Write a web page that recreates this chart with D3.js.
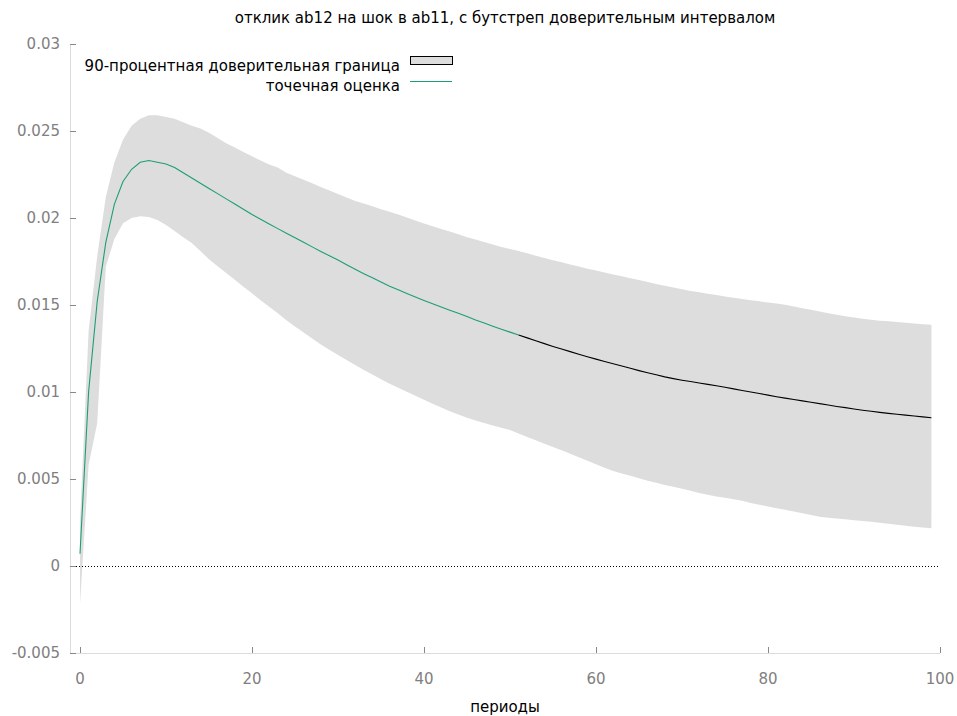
<!DOCTYPE html>
<html>
<head>
<meta charset="utf-8">
<script src="https://cdn.jsdelivr.net/npm/d3@7"></script>
<style>
  body { margin: 0; background: #fff; }
  svg text { font-family: "DejaVu Sans", Verdana, sans-serif; }
</style>
</head>
<body>
<div id="chart"></div>
<script>
// periods 0..99
const periods = d3.range(0, 100);

// point estimate (response of ab12 to a shock in ab11)
const response = [
  0.0007, 0.0100, 0.0152, 0.0186, 0.0208, 0.0221, 0.0228, 0.0232, 0.0233, 0.0232,
  0.0231, 0.0229, 0.0226, 0.0223, 0.0220, 0.02170, 0.02140, 0.02110, 0.02080, 0.02050,
  0.02020, 0.01993, 0.01966, 0.01939, 0.01912, 0.01886, 0.01860, 0.01834, 0.01808, 0.01783,
  0.01758, 0.01731, 0.01705, 0.01680, 0.01656, 0.01632, 0.01608, 0.01587, 0.01566, 0.01546,
  0.01526, 0.01507, 0.01488, 0.01470, 0.01452, 0.01434, 0.01414, 0.01396, 0.01378, 0.01361,
  0.01344, 0.01328, 0.01311, 0.01294, 0.01278, 0.01262, 0.01247, 0.01232, 0.01217, 0.01203,
  0.01189, 0.01175, 0.01162, 0.01149, 0.01136, 0.01123, 0.01111, 0.01099, 0.01087, 0.01077,
  0.01068, 0.01060, 0.01052, 0.01044, 0.01036, 0.01027, 0.01018, 0.01009, 0.01000, 0.00991,
  0.00982, 0.00973, 0.00965, 0.00957, 0.00949, 0.00941, 0.00933, 0.00925, 0.00917, 0.00910,
  0.00902, 0.00895, 0.00889, 0.00883, 0.00877, 0.00872, 0.00867, 0.00862, 0.00857, 0.00852
];

// 90% bootstrap band
const upper = [
  0.0025, 0.0135, 0.0178, 0.0212, 0.0232, 0.0245, 0.0253, 0.0257, 0.0259, 0.0259,
  0.0258, 0.0257, 0.0255, 0.0253, 0.02515, 0.02490, 0.02460, 0.02430, 0.02405, 0.02380,
  0.02355, 0.02330, 0.02308, 0.02290, 0.02260, 0.02240, 0.02220, 0.02200, 0.02178, 0.02158,
  0.02138, 0.02118, 0.02098, 0.02083, 0.02067, 0.02051, 0.02036, 0.02020, 0.02003, 0.01986,
  0.01968, 0.01953, 0.01937, 0.01922, 0.01906, 0.01890, 0.01876, 0.01862, 0.01848, 0.01834,
  0.01822, 0.01811, 0.01797, 0.01783, 0.01770, 0.01757, 0.01745, 0.01733, 0.01721, 0.01709,
  0.01698, 0.01687, 0.01676, 0.01665, 0.01654, 0.01643, 0.01632, 0.01621, 0.01610, 0.01600,
  0.01590, 0.01581, 0.01573, 0.01565, 0.01557, 0.01549, 0.01542, 0.01535, 0.01527, 0.01521,
  0.01515, 0.01508, 0.01501, 0.01492, 0.01482, 0.01472, 0.01462, 0.01453, 0.01444, 0.01436,
  0.01428, 0.01421, 0.01415, 0.01410, 0.01406, 0.01402, 0.01398, 0.01394, 0.01390, 0.01386
];

const lower = [
  -0.0022, 0.0058, 0.0082, 0.0172, 0.0188, 0.0197, 0.0200, 0.0201, 0.02006, 0.01989,
  0.0196, 0.01925, 0.0189, 0.01856, 0.0181, 0.01763, 0.01722, 0.01684, 0.01645, 0.01605,
  0.01567, 0.01528, 0.01490, 0.01452, 0.01412, 0.01377, 0.01342, 0.01308, 0.01273, 0.01243,
  0.01213, 0.01184, 0.01155, 0.01127, 0.01100, 0.01073, 0.01047, 0.01024, 0.01001, 0.00978,
  0.00955, 0.00933, 0.00911, 0.00890, 0.00871, 0.00852, 0.00836, 0.00822, 0.00808, 0.00795,
  0.00782, 0.00762, 0.00742, 0.00722, 0.00703, 0.00684, 0.00665, 0.00645, 0.00625, 0.00605,
  0.00585, 0.00564, 0.00546, 0.00532, 0.00518, 0.00504, 0.00490, 0.00478, 0.00466, 0.00455,
  0.00444, 0.00432, 0.00420, 0.00409, 0.00400, 0.00392, 0.00383, 0.00375, 0.00362, 0.00352,
  0.00342, 0.00332, 0.00323, 0.00313, 0.00303, 0.00293, 0.00283, 0.00278, 0.00273, 0.00268,
  0.00263, 0.00258, 0.00254, 0.00249, 0.00243, 0.00237, 0.00231, 0.00226, 0.00221, 0.00217
];

// the estimate line changes from green to black at this period
const colourSplit = 51;

const xTicks = [0, 20, 40, 60, 80, 100];
const yTicks = [-0.005, 0, 0.005, 0.01, 0.015, 0.02, 0.025, 0.03];
const yTickLabels = ["-0.005", "0", "0.005", "0.01", "0.015", "0.02", "0.025", "0.03"];

const titleText = "отклик ab12 на шок в ab11, с бутстреп доверительным интервалом";
const xLabel = "периоды";
const legendLabels = ["90-процентная доверительная граница", "точечная оценка"];

const width = 957, height = 716;
const axisLeft = 70, plotRight = 940, plotTop = 44, plotBottom = 653;
const fontSize = 15;

const svg = d3.select("#chart")
    .append("svg")
    .attr("width", width)
    .attr("height", height);

const x = d3.scaleLinear().domain([0, 100]).range([80, plotRight]);
const y = d3.scaleLinear().domain([-0.005, 0.03]).range([plotBottom, plotTop]);

const rows = periods.map((p, i) => ({ p: p, v: response[i], lo: lower[i], hi: upper[i] }));

// confidence band
svg.append("path")
    .datum(rows)
    .attr("fill", "#dddddd")
    .attr("d", d3.area()
        .x(d => x(d.p))
        .y0(d => y(d.lo))
        .y1(d => y(d.hi)));

// zero line
svg.append("line")
    .attr("x1", axisLeft).attr("x2", plotRight)
    .attr("y1", y(0) + 0.5).attr("y2", y(0) + 0.5)
    .attr("stroke", "#000")
    .attr("stroke-width", 1)
    .attr("stroke-dasharray", "1,2");

// point estimate
const line = d3.line().x(d => x(d.p)).y(d => y(d.v));
svg.append("path")
    .datum(rows.slice(0, colourSplit + 1))
    .attr("fill", "none")
    .attr("stroke", "#1b9e77")
    .attr("stroke-width", 1.1)
    .attr("d", line);
svg.append("path")
    .datum(rows.slice(colourSplit))
    .attr("fill", "none")
    .attr("stroke", "#000")
    .attr("stroke-width", 1.1)
    .attr("d", line);

// border lines
svg.append("line")
    .attr("x1", axisLeft + 0.5).attr("x2", axisLeft + 0.5)
    .attr("y1", plotTop).attr("y2", plotBottom + 0.5)
    .attr("stroke", "#dcdcdc");
svg.append("line")
    .attr("x1", axisLeft).attr("x2", plotRight)
    .attr("y1", plotBottom + 0.5).attr("y2", plotBottom + 0.5)
    .attr("stroke", "#dcdcdc");

// y ticks + labels
const yg = svg.append("g");
yg.selectAll("line")
    .data(yTicks)
    .enter()
    .append("line")
    .attr("x1", axisLeft).attr("x2", axisLeft + 6)
    .attr("y1", d => Math.round(y(d)) + 0.5)
    .attr("y2", d => Math.round(y(d)) + 0.5)
    .attr("stroke", "#888");
yg.selectAll("text")
    .data(yTicks)
    .enter()
    .append("text")
    .attr("x", 60)
    .attr("y", d => y(d))
    .attr("dy", "0.35em")
    .attr("text-anchor", "end")
    .attr("font-size", fontSize)
    .attr("fill", "#808080")
    .text((d, i) => yTickLabels[i]);

// x ticks + labels
const xg = svg.append("g");
xg.selectAll("line")
    .data(xTicks)
    .enter()
    .append("line")
    .attr("x1", d => Math.round(x(d)) + 0.5)
    .attr("x2", d => Math.round(x(d)) + 0.5)
    .attr("y1", plotBottom).attr("y2", plotBottom - 6)
    .attr("stroke", "#888");
xg.selectAll("text")
    .data(xTicks)
    .enter()
    .append("text")
    .attr("x", d => x(d))
    .attr("y", 684)
    .attr("text-anchor", "middle")
    .attr("font-size", fontSize)
    .attr("fill", "#808080")
    .text(d => d);

// axis label
svg.append("text")
    .attr("x", (axisLeft + plotRight) / 2)
    .attr("y", 712)
    .attr("text-anchor", "middle")
    .attr("font-size", fontSize)
    .attr("fill", "#000")
    .text(xLabel);

// title
svg.append("text")
    .attr("x", (axisLeft + plotRight) / 2)
    .attr("y", 23)
    .attr("text-anchor", "middle")
    .attr("font-size", fontSize)
    .attr("fill", "#000")
    .text(titleText);

// legend
const legend = svg.append("g");
legend.append("text")
    .attr("x", 400).attr("y", 71)
    .attr("text-anchor", "end")
    .attr("font-size", fontSize)
    .text(legendLabels[0]);
legend.append("rect")
    .attr("x", 410.5).attr("y", 56.5)
    .attr("width", 42).attr("height", 8)
    .attr("fill", "#dddddd")
    .attr("stroke", "#000");
legend.append("text")
    .attr("x", 400).attr("y", 91)
    .attr("text-anchor", "end")
    .attr("font-size", fontSize)
    .text(legendLabels[1]);
legend.append("line")
    .attr("x1", 410).attr("x2", 452)
    .attr("y1", 81.5).attr("y2", 81.5)
    .attr("stroke", "#1b9e77")
    .attr("stroke-width", 1.1);
</script>
</body>
</html>
